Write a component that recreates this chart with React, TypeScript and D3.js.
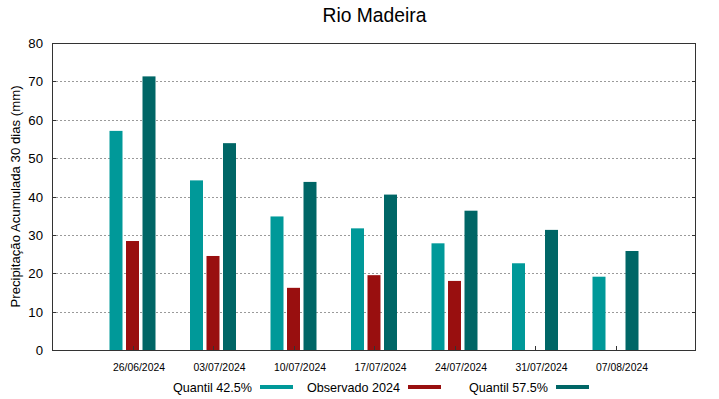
import React from "react";
import * as d3 from "d3";

const categories = ["26/06/2024", "03/07/2024", "10/07/2024", "17/07/2024", "24/07/2024", "31/07/2024", "07/08/2024"];
const q425 = [57.1, 44.2, 34.8, 31.7, 27.8, 22.6, 19.1];
const obs2024: (number | null)[] = [28.4, 24.5, 16.2, 19.5, 18.0, null, null];
const q575 = [71.3, 53.9, 43.8, 40.5, 36.3, 31.3, 25.8];
const yTicks = [0, 10, 20, 30, 40, 50, 60, 70, 80];
const seriesNames = ["Quantil 42.5%", "Observado 2024", "Quantil 57.5%"];
const colors = ["#009999", "#990f0f", "#006666"];

const W = 719, H = 399;
const L = 52, R = 696, T = 43, B = 350;

export default function App() {
  const x = d3.scaleLinear().domain([-1, 7]).range([L, R]);
  const y = d3.scaleLinear().domain([0, 80]).range([B, T]);
  const bw = 13;
  const off = [-16.5, 0, 16.5];
  const series = [q425, obs2024, q575];
  const font = "'Liberation Sans', Arial, sans-serif";
  const legendX = [252, 400, 548];
  return (
    <svg width={W} height={H} style={{ position: "absolute", left: 0, top: 0, background: "#fff" }} fontFamily={font}>
      <rect x={0} y={0} width={W} height={H} fill="#fff" />
      <text x={374.5} y={22} textAnchor="middle" fontSize={19.3} fill="#000">Rio Madeira</text>
      {yTicks.filter(v => v > 0 && v < 80).map(v => (
        <line key={"g" + v} x1={L} x2={R} y1={Math.round(y(v)) + 0.5} y2={Math.round(y(v)) + 0.5} stroke="#9a9a9a" strokeWidth={1} strokeDasharray="2,2" />
      ))}
      {series.map((s, si) => s.map((v, i) => v == null ? null : (
        <rect key={si + "-" + i} x={x(i) + off[si] - bw / 2} y={y(v)} width={bw} height={B - y(v)} fill={colors[si]} />
      )))}
      {yTicks.map(v => (
        <g key={"t" + v}>
          <line x1={L} x2={L + 4} y1={Math.round(y(v)) + 0.5} y2={Math.round(y(v)) + 0.5} stroke="#333" />
          <line x1={R - 4} x2={R} y1={Math.round(y(v)) + 0.5} y2={Math.round(y(v)) + 0.5} stroke="#333" />
          <text x={43} y={y(v) + 5} textAnchor="end" fontSize={13.2} fill="#000">{v}</text>
        </g>
      ))}
      {categories.map((c, i) => (
        <g key={c}>
          <line x1={Math.round(x(i)) + 0.5} x2={Math.round(x(i)) + 0.5} y1={B} y2={B - 4} stroke="#333" />
          <text x={x(i) + 6.5} y={371} textAnchor="middle" fontSize={10.4} fill="#000">{c}</text>
        </g>
      ))}
      <rect x={L + 0.5} y={T + 0.5} width={R - L - 1} height={B - T} fill="none" stroke="#333" strokeWidth={1} />
      <text transform={`translate(20,${(T + B) / 2}) rotate(-90)`} textAnchor="middle" fontSize={13.2} fill="#000">Precipitação Acumulada 30 dias (mm)</text>
      {seriesNames.map((n, i) => (
        <g key={n}>
          <text x={legendX[i]} y={392} textAnchor="end" fontSize={12.6} fill="#000">{n}</text>
          <rect x={legendX[i] + 8} y={385} width={33} height={4} fill={colors[i]} />
        </g>
      ))}
    </svg>
  );
}
